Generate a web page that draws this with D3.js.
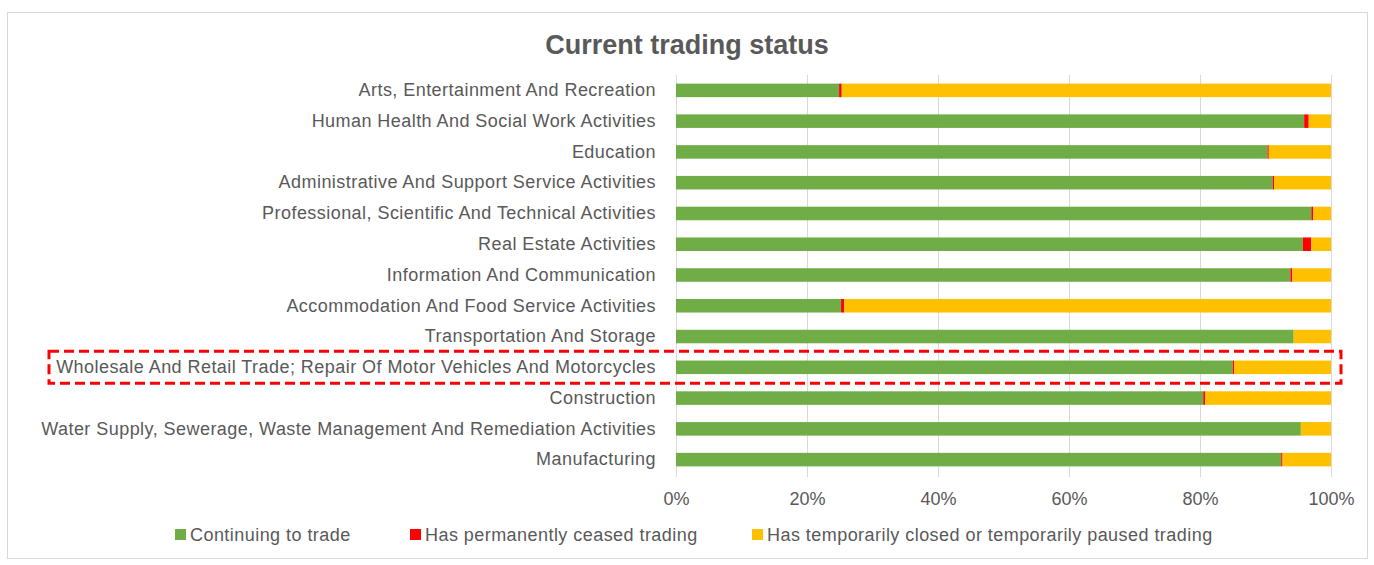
<!DOCTYPE html>
<html><head><meta charset="utf-8">
<script src="https://cdn.jsdelivr.net/npm/d3@7/dist/d3.min.js"></script>
<style>body{margin:0;background:#fff;}svg{display:block;}</style>
</head><body><svg id="c" width="1374" height="565"></svg>
<script>
const categories = [
  "Arts, Entertainment And Recreation",
  "Human Health And Social Work Activities",
  "Education",
  "Administrative And Support Service Activities",
  "Professional, Scientific And Technical Activities",
  "Real Estate Activities",
  "Information And Communication",
  "Accommodation And Food Service Activities",
  "Transportation And Storage",
  "Wholesale And Retail Trade; Repair Of Motor Vehicles And Motorcycles",
  "Construction",
  "Water Supply, Sewerage, Waste Management And Remediation Activities",
  "Manufacturing"
];
const continuing = [24.9, 95.9, 90.3, 91.1, 97.0, 95.7, 93.8, 25.2, 94.3, 85.0, 80.5, 95.4, 92.4];
const ceased     = [0.4, 0.7, 0.2, 0.2, 0.3, 1.3, 0.3, 0.5, 0.0, 0.2, 0.3, 0.0, 0.2];
const seriesNames = ["Continuing to trade", "Has permanently ceased trading", "Has temporarily closed or temporarily paused trading"];
const seriesColors = ["#70AD47", "#FF0000", "#FFC000"];
const tickValues = [0, 0.2, 0.4, 0.6, 0.8, 1.0];
const highlighted = "Wholesale And Retail Trade; Repair Of Motor Vehicles And Motorcycles";

const rows = categories.map((c, i) => ({
  cat: c,
  a: continuing[i] / 100,
  b: ceased[i] / 100,
  c: 1 - (continuing[i] + ceased[i]) / 100
}));

const svg = d3.select("#c");
const font = "'Liberation Sans', Arial, sans-serif";
const textCol = "#595959";

svg.append("rect").attr("x", 7.5).attr("y", 12.5).attr("width", 1360).attr("height", 546)
  .attr("fill", "#fff").attr("stroke", "#d9d9d9").attr("stroke-width", 1);

svg.append("text").attr("x", 687).attr("y", 54).attr("text-anchor", "middle")
  .attr("font-family", font).attr("font-weight", "bold").attr("font-size", 27)
  .attr("fill", textCol).text("Current trading status");

const x = d3.scaleLinear().domain([0, 1]).range([676, 1331]);
const y = d3.scaleBand().domain(categories).range([75, 475]).paddingInner(0.56).paddingOuter(0.28);

svg.append("g").selectAll("line").data(tickValues).join("line")
  .attr("x1", d => x(d) + 0.5).attr("x2", d => x(d) + 0.5)
  .attr("y1", 75).attr("y2", 477)
  .attr("stroke", "#d9d9d9").attr("stroke-width", 1);

const stack = d3.stack().keys(["a", "b", "c"])(rows);
svg.append("g").selectAll("g").data(stack).join("g")
  .attr("fill", (d, i) => seriesColors[i])
  .selectAll("rect").data(d => d).join("rect")
  .attr("x", d => x(d[0])).attr("width", d => Math.max(0, x(d[1]) - x(d[0])))
  .attr("y", d => y(d.data.cat)).attr("height", y.bandwidth());

const xAxis = d3.axisBottom(x).tickValues(tickValues).tickFormat(d3.format(".0%")).tickSize(0).tickPadding(0);
const gx = svg.append("g").attr("transform", "translate(0,492)").call(xAxis);
gx.select(".domain").remove();
gx.selectAll("text").attr("font-family", font).attr("font-size", 18).attr("fill", textCol).attr("dy", "0.71em");

const yAxis = d3.axisLeft(y).tickSize(0).tickPadding(20);
const gy = svg.append("g").attr("transform", "translate(676,0)").call(yAxis);
gy.select(".domain").remove();
gy.selectAll("text").attr("font-family", font).attr("font-size", 18)
  .attr("letter-spacing", "0.45px").attr("fill", textCol);

const hy = y(highlighted) + y.bandwidth() / 2;
svg.append("rect").attr("x", 49).attr("y", hy - 16).attr("width", 1292).attr("height", 32)
  .attr("fill", "none").attr("stroke", "#FF0000").attr("stroke-width", 3)
  .attr("stroke-dasharray", "10,5");

const legendX = [175, 410, 752];
const lg = svg.append("g").selectAll("g").data(seriesNames).join("g")
  .attr("transform", (d, i) => `translate(${legendX[i]},535)`);
lg.append("rect").attr("x", 0).attr("y", -6).attr("width", 11).attr("height", 11)
  .attr("fill", (d, i) => seriesColors[i]);
lg.append("text").attr("x", 15).attr("y", 0).attr("dy", "0.35em")
  .attr("font-family", font).attr("font-size", 18).attr("letter-spacing", "0.45px")
  .attr("fill", textCol).text(d => d);
</script></body></html>
